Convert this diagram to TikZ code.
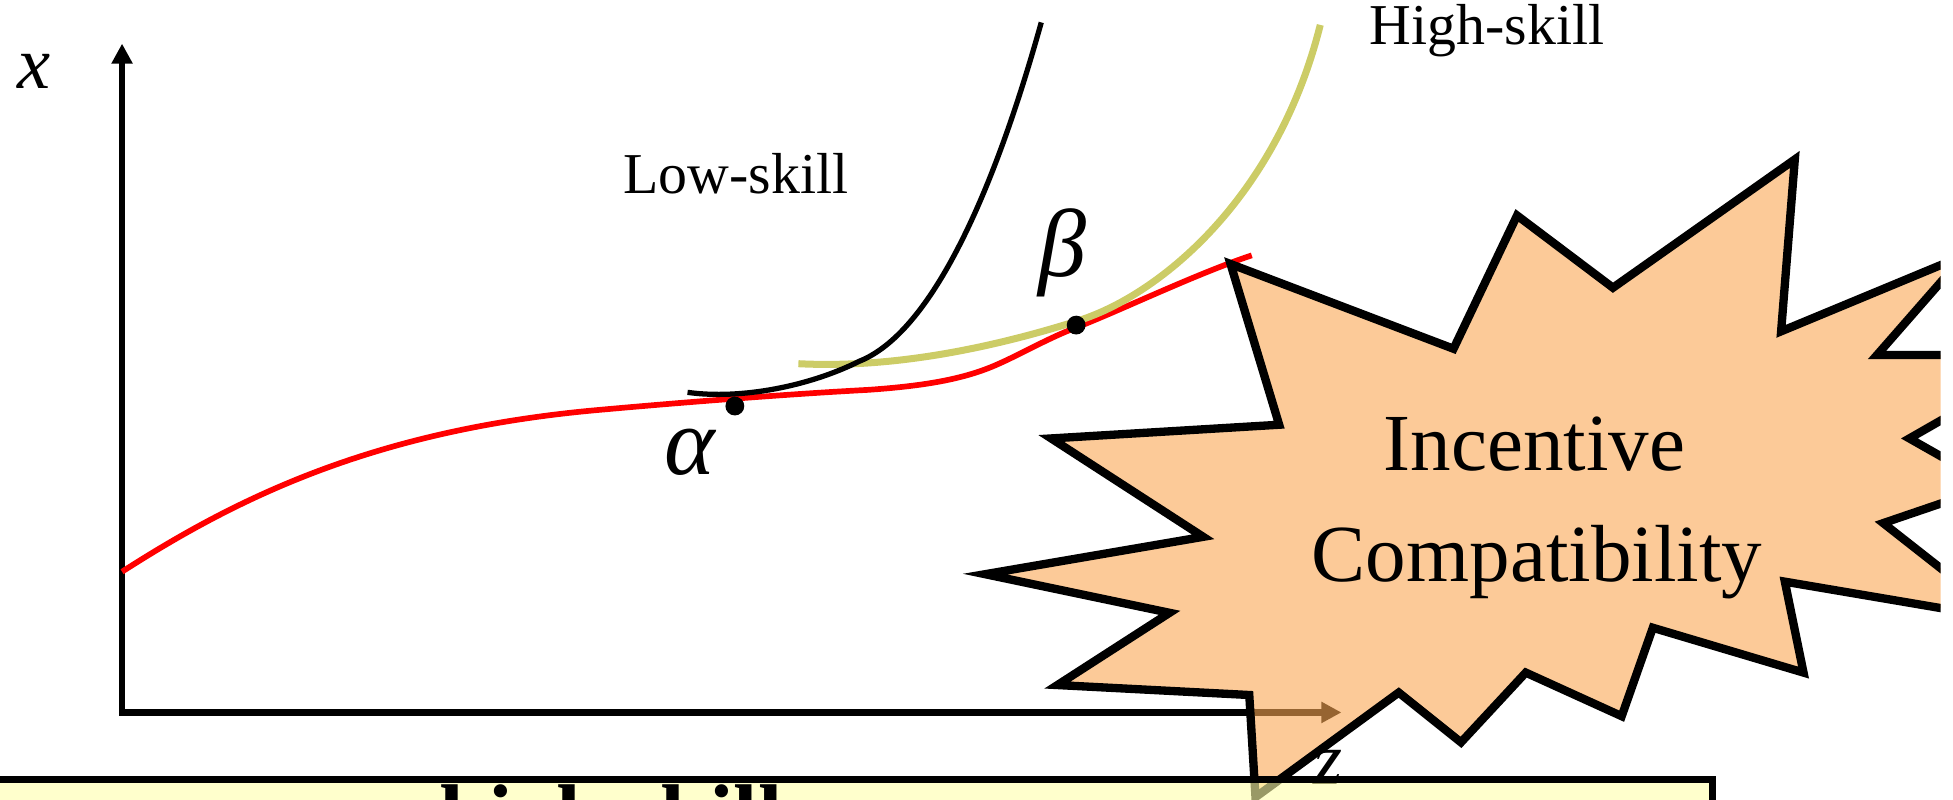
\documentclass[tikz,border=0pt]{standalone}
\usepackage{fontspec}
\setmainfont{Liberation Serif}
\usetikzlibrary{arrows.meta}
\definecolor{burstfill}{RGB}{250,167,83}
\definecolor{notefill}{RGB}{255,255,170}
\definecolor{highcol}{RGB}{204,204,102}

\begin{document}
\begin{tikzpicture}[x=0.01cm, y=-0.01cm,
  every node/.style={inner sep=0pt},
  axis/.style={line width=1.5pt, {Triangle[length=4.6pt,width=4.6pt]}-{Triangle[length=4.6pt,width=4.6pt]}},
  curve/.style={line width=1.3pt},
  dot/.style={circle, fill=black, minimum size=4.3pt},
  lbl/.style={font=\fontsize{13.2}{16}\selectfont},
  greek/.style={font=\fontsize{22}{26}\selectfont\itshape},
  axlbl/.style={font=\fontsize{17}{20}\selectfont\itshape},
  burst/.style={draw=black, line width=1.9pt, line join=miter, fill=burstfill, fill opacity=0.6},
  bursttext/.style={font=\fontsize{18.5}{25}\selectfont}]
  \useasboundingbox (0,0) rectangle (1568,642);
  \clip (0,0) rectangle (1568,642);
  % Axes
  \coordinate (xtop) at (98,35);
  \coordinate (origin) at (98,572);
  \coordinate (zend) at (1077,572);
  \draw[axis] (xtop) -- (origin) -- (zend);
  \node[axlbl, anchor=base] (xlab) at (27,71) {x};
  \node[axlbl, anchor=base] (zlab) at (1066,630) {z};
  % Red curve
  \draw[curve, red]
    (98,459)
    .. controls (190,400) and (300,345) .. (482,329)
    .. controls (560,322) and (640,316) .. (697,313)
    .. controls (740,310) and (770,305) .. (795,295)
    .. controls (815,287) and (840,272) .. (864,263)
    .. controls (900,249) and (960,220) .. (1005,205);
  % High-skill curve
  \draw[line width=1.6pt, highcol]
    (641,292)
    .. controls (720,296) and (800,278) .. (864,258)
    .. controls (930,238) and (1025,160) .. (1060,20);
  % Low-skill curve
  \draw[line width=1.2pt, black]
    (552,315)
    .. controls (595,321) and (650,310) .. (690,290)
    .. controls (745,268) and (795,165) .. (836,18);
  % Points and labels
  \node[dot] (alphadot) at (590,326) {};
  \node[dot] (betadot) at (864,261) {};
  \node[greek] (alphalab) at (554,363) {α};
  \node[greek] (betalab) at (853,203) {β};
  \node[lbl, anchor=base west] (lowlab) at (500,155) {Low-skill};
  \node[lbl, anchor=base west] (highlab) at (1099,36) {High-skill};
  % Incentive compatibility burst
  \begin{scope}
    \clip (0,0) rectangle (1558,642);
    \draw[burst]
      (988,212) -- (1167,280) -- (1218,173) -- (1295,231) -- (1441,128)
      -- (1430,266) -- (1577,205) -- (1507,285) -- (1650,285) -- (1533,352)
      -- (1600,390) -- (1512,420) -- (1610,497) -- (1433,467) -- (1448,540)
      -- (1327,504) -- (1302,575) -- (1225,540) -- (1173,596) -- (1123,556)
      -- (1008,640) -- (1003,558) -- (849,550) -- (939,492) -- (791,461)
      -- (966,431) -- (844,352) -- (1027,341) -- cycle;
  \end{scope}
  \node[bursttext, anchor=base] (ictop) at (1232,378) {Incentive};
  \node[bursttext, anchor=base] (icbot) at (1234,467) {Compatibility};
  % Note box at the bottom
  \fill[notefill, fill opacity=0.6] (-10,626) rectangle (1375,700);
  \draw[line width=1.5pt] (-10,626) -- (1375,626) -- (1375,700);
  \node[font=\fontsize{20}{24}\selectfont\bfseries, anchor=base west] (note) at (352,679) {high skill};
\end{tikzpicture}
\end{document}
